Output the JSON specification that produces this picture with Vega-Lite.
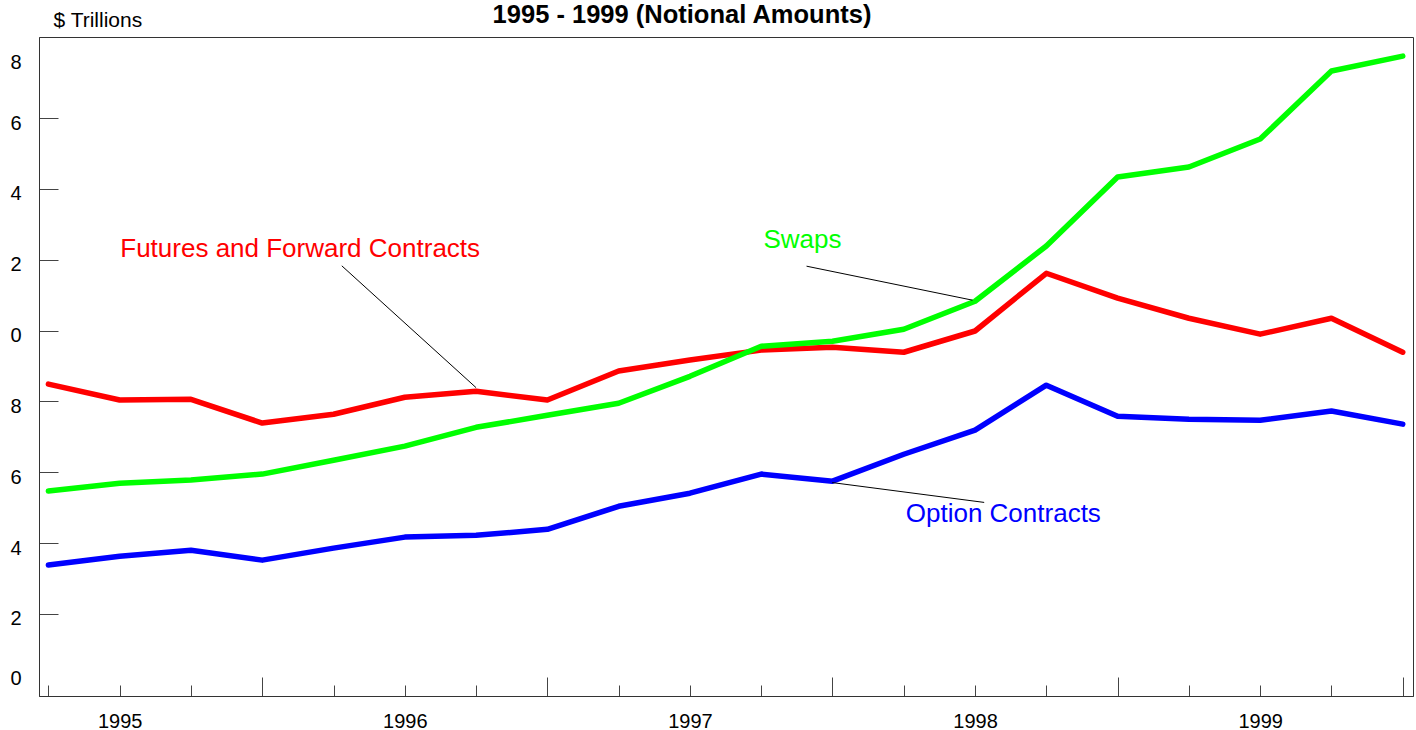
{
  "$schema": "https://vega.github.io/schema/vega-lite/v6.json",
  "width": 1374,
  "height": 659,
  "autosize": {"type": "none"},
  "padding": {"left": 39, "top": 37, "right": 3, "bottom": 34},
  "background": "white",
  "title": {"text": "1995 - 1999 (Notional Amounts)", "font": "Liberation Sans", "fontSize": 25.5, "fontWeight": "bold", "color": "black", "anchor": "middle", "dx": -44, "dy": 54, "frame": "group", "baseline": "alphabetic", "offset": 15},
  "config": {"view": {"stroke": "#333", "strokeWidth": 1}, "font": "Liberation Sans"},
  "datasets": {
    "amounts": [
      {"series": "Futures and Forward Contracts", "year": 1994.75, "trillions": 8.49},
      {"series": "Futures and Forward Contracts", "year": 1995, "trillions": 8.04},
      {"series": "Futures and Forward Contracts", "year": 1995.25, "trillions": 8.06},
      {"series": "Futures and Forward Contracts", "year": 1995.5, "trillions": 7.39},
      {"series": "Futures and Forward Contracts", "year": 1995.75, "trillions": 7.64},
      {"series": "Futures and Forward Contracts", "year": 1996, "trillions": 8.12},
      {"series": "Futures and Forward Contracts", "year": 1996.25, "trillions": 8.29},
      {"series": "Futures and Forward Contracts", "year": 1996.5, "trillions": 8.04},
      {"series": "Futures and Forward Contracts", "year": 1996.75, "trillions": 8.86},
      {"series": "Futures and Forward Contracts", "year": 1997, "trillions": 9.17},
      {"series": "Futures and Forward Contracts", "year": 1997.25, "trillions": 9.45},
      {"series": "Futures and Forward Contracts", "year": 1997.5, "trillions": 9.53},
      {"series": "Futures and Forward Contracts", "year": 1997.75, "trillions": 9.39},
      {"series": "Futures and Forward Contracts", "year": 1998, "trillions": 9.99},
      {"series": "Futures and Forward Contracts", "year": 1998.25, "trillions": 11.62},
      {"series": "Futures and Forward Contracts", "year": 1998.5, "trillions": 10.92},
      {"series": "Futures and Forward Contracts", "year": 1998.75, "trillions": 10.35},
      {"series": "Futures and Forward Contracts", "year": 1999, "trillions": 9.9},
      {"series": "Futures and Forward Contracts", "year": 1999.25, "trillions": 10.35},
      {"series": "Futures and Forward Contracts", "year": 1999.5, "trillions": 9.39},
      {"series": "Swaps", "year": 1994.75, "trillions": 5.47},
      {"series": "Swaps", "year": 1995, "trillions": 5.69},
      {"series": "Swaps", "year": 1995.25, "trillions": 5.78},
      {"series": "Swaps", "year": 1995.5, "trillions": 5.95},
      {"series": "Swaps", "year": 1995.75, "trillions": 6.34},
      {"series": "Swaps", "year": 1996, "trillions": 6.74},
      {"series": "Swaps", "year": 1996.25, "trillions": 7.27},
      {"series": "Swaps", "year": 1996.5, "trillions": 7.61},
      {"series": "Swaps", "year": 1996.75, "trillions": 7.95},
      {"series": "Swaps", "year": 1997, "trillions": 8.71},
      {"series": "Swaps", "year": 1997.25, "trillions": 9.56},
      {"series": "Swaps", "year": 1997.5, "trillions": 9.7},
      {"series": "Swaps", "year": 1997.75, "trillions": 10.04},
      {"series": "Swaps", "year": 1998, "trillions": 10.83},
      {"series": "Swaps", "year": 1998.25, "trillions": 12.39},
      {"series": "Swaps", "year": 1998.5, "trillions": 14.34},
      {"series": "Swaps", "year": 1998.75, "trillions": 14.62},
      {"series": "Swaps", "year": 1999, "trillions": 15.41},
      {"series": "Swaps", "year": 1999.25, "trillions": 17.33},
      {"series": "Swaps", "year": 1999.5, "trillions": 17.75},
      {"series": "Option Contracts", "year": 1994.75, "trillions": 3.38},
      {"series": "Option Contracts", "year": 1995, "trillions": 3.63},
      {"series": "Option Contracts", "year": 1995.25, "trillions": 3.8},
      {"series": "Option Contracts", "year": 1995.5, "trillions": 3.52},
      {"series": "Option Contracts", "year": 1995.75, "trillions": 3.86},
      {"series": "Option Contracts", "year": 1996, "trillions": 4.17},
      {"series": "Option Contracts", "year": 1996.25, "trillions": 4.22},
      {"series": "Option Contracts", "year": 1996.5, "trillions": 4.39},
      {"series": "Option Contracts", "year": 1996.75, "trillions": 5.04},
      {"series": "Option Contracts", "year": 1997, "trillions": 5.41},
      {"series": "Option Contracts", "year": 1997.25, "trillions": 5.95},
      {"series": "Option Contracts", "year": 1997.5, "trillions": 5.75},
      {"series": "Option Contracts", "year": 1997.75, "trillions": 6.51},
      {"series": "Option Contracts", "year": 1998, "trillions": 7.19},
      {"series": "Option Contracts", "year": 1998.25, "trillions": 8.46},
      {"series": "Option Contracts", "year": 1998.5, "trillions": 7.58},
      {"series": "Option Contracts", "year": 1998.75, "trillions": 7.5},
      {"series": "Option Contracts", "year": 1999, "trillions": 7.47},
      {"series": "Option Contracts", "year": 1999.25, "trillions": 7.73},
      {"series": "Option Contracts", "year": 1999.5, "trillions": 7.36}
    ],
    "leaders": [
      {"series": "Futures and Forward Contracts", "year": 1995.779, "trillions": 11.83, "year2": 1996.25, "trillions2": 8.39},
      {"series": "Swaps", "year": 1997.409, "trillions": 11.82, "year2": 1997.991, "trillions2": 10.86},
      {"series": "Option Contracts", "year": 1997.499, "trillions": 5.71, "year2": 1998.032, "trillions2": 5.15}
    ],
    "labels": [
      {"series": "Futures and Forward Contracts", "year": 1995.002, "trillions": 12.08},
      {"series": "Swaps", "year": 1997.258, "trillions": 12.32},
      {"series": "Option Contracts", "year": 1997.757, "trillions": 4.6}
    ]
  },
  "layer": [
    {
      "data": {"name": "amounts"},
      "mark": {"type": "line", "strokeWidth": 5.5, "strokeCap": "round", "strokeJoin": "round"},
      "encoding": {
        "x": {
          "field": "year", "type": "quantitative",
          "scale": {"domain": [1994.717, 1999.536], "nice": false, "zero": false},
          "axis": {
            "title": null,
            "values": [1994.75, 1995, 1995.25, 1995.5, 1995.75, 1996, 1996.25, 1996.5, 1996.75, 1997, 1997.25, 1997.5, 1997.75, 1998, 1998.25, 1998.5, 1998.75, 1999, 1999.25, 1999.5],
            "labelExpr": "datum.value == floor(datum.value) ? '' + datum.value : ''",
            "tickSize": {"condition": {"test": "datum.value % 1 == 0.5", "value": -19}, "value": -11},
            "tickColor": "#444",
            "tickWidth": 1,
            "domainColor": "#333",
            "grid": false,
            "labelFont": "Liberation Sans",
            "labelFontSize": 20,
            "labelColor": "black",
            "labelPadding": 26,
            "labelOverlap": false,
            "labelBound": false,
            "labelFlush": false
          }
        },
        "y": {
          "field": "trillions", "type": "quantitative",
          "scale": {"domain": [-0.316, 18.291], "nice": false, "zero": false},
          "axis": {
            "values": [0, 2, 4, 6, 8, 10, 12, 14, 16, 18],
            "labelExpr": "'' + (datum.value % 10)",
            "tickSize": -19,
            "tickColor": "#444",
            "tickOpacity": {"condition": {"test": "datum.value == 0 || datum.value == 18", "value": 0}, "value": 1},
            "domainColor": "#333",
            "grid": false,
            "labelFont": "Liberation Sans",
            "labelFontSize": 20,
            "labelColor": "black",
            "labelPadding": 37,
            "labelOffset": {"condition": [{"test": "datum.value == 18", "value": 15}, {"test": "datum.value == 0", "value": -6}], "value": 5},
            "labelOverlap": false,
            "labelBound": false,
            "labelFlush": false,
            "title": "$ Trillions",
            "titleAngle": 0,
            "titleAlign": "left",
            "titleBaseline": "alphabetic",
            "titleX": 14,
            "titleY": -11,
            "titleFont": "Liberation Sans",
            "titleFontSize": 21,
            "titleFontWeight": "normal",
            "titleColor": "black"
          }
        },
        "color": {
          "field": "series", "type": "nominal",
          "scale": {"domain": ["Futures and Forward Contracts", "Swaps", "Option Contracts"], "range": ["#ff0000", "#00ff00", "#0000ff"]},
          "legend": null
        }
      }
    },
    {
      "data": {"name": "leaders"},
      "mark": {"type": "rule", "color": "black", "strokeWidth": 1},
      "encoding": {
        "x": {"field": "year", "type": "quantitative"},
        "y": {"field": "trillions", "type": "quantitative"},
        "x2": {"field": "year2"},
        "y2": {"field": "trillions2"}
      }
    },
    {
      "data": {"name": "labels"},
      "mark": {"type": "text", "align": "left", "baseline": "alphabetic", "font": "Liberation Sans", "fontSize": 26},
      "encoding": {
        "x": {"field": "year", "type": "quantitative"},
        "y": {"field": "trillions", "type": "quantitative"},
        "text": {"field": "series"},
        "color": {"field": "series", "type": "nominal", "legend": null}
      }
    }
  ]
}
